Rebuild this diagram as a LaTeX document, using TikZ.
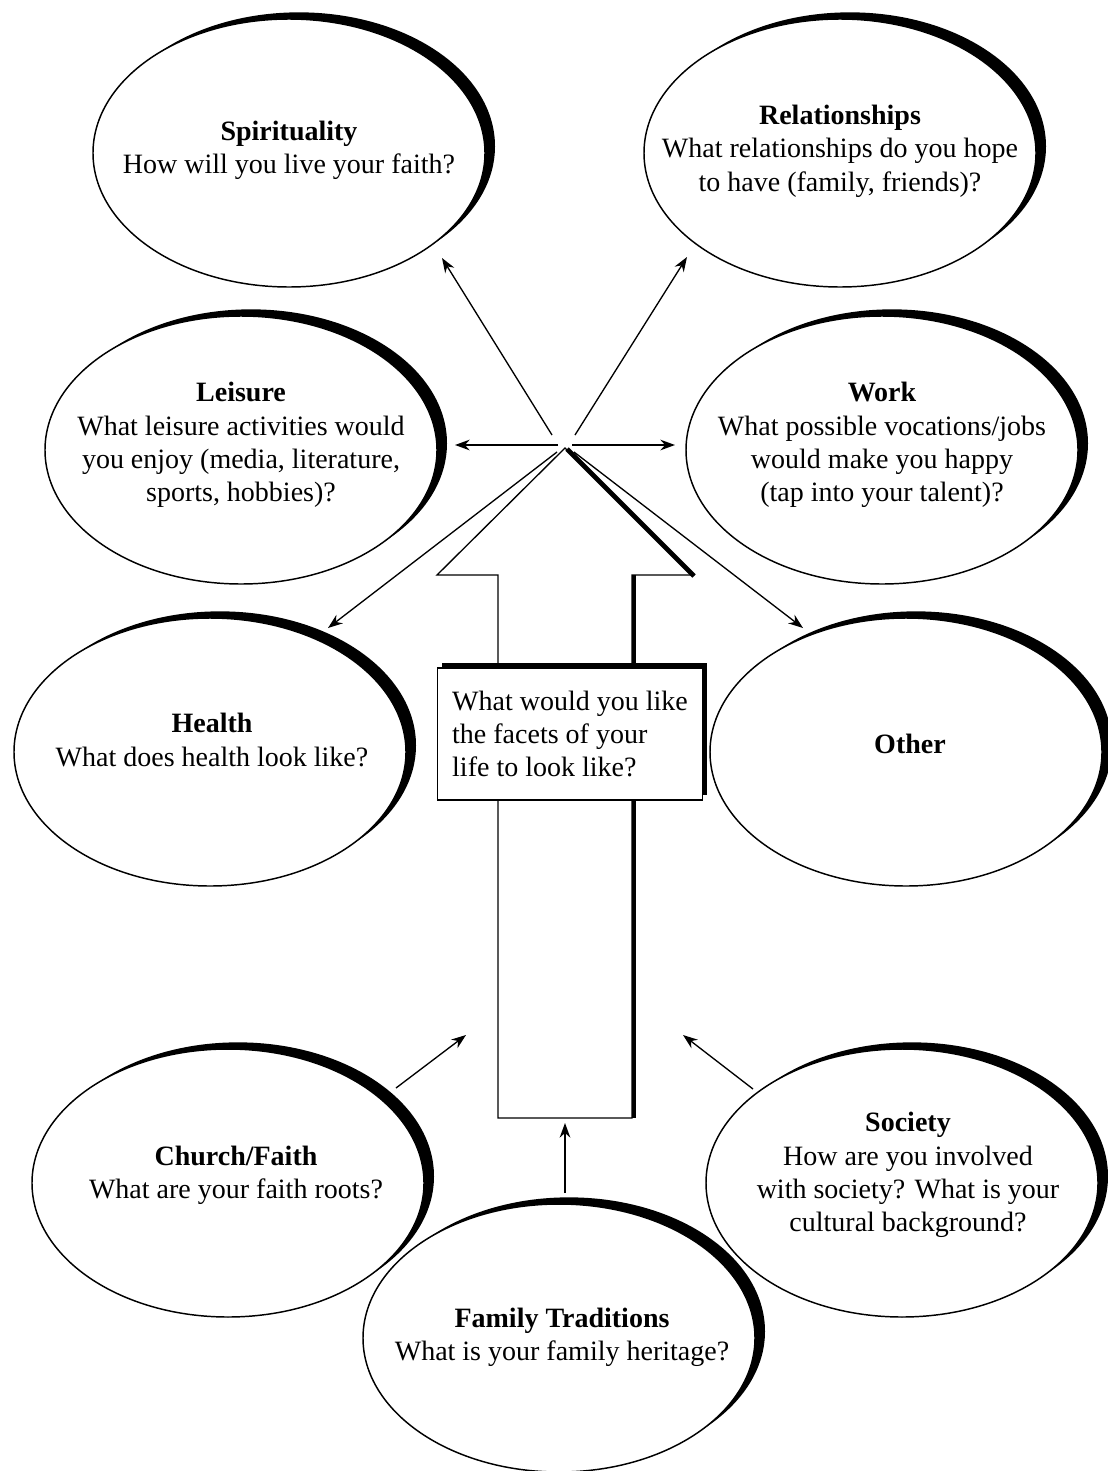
\documentclass[tikz,border=0pt]{standalone}
\usepackage{fontspec}
\setmainfont{Liberation Serif}
\usepackage{tikz}
\usetikzlibrary{arrows.meta}
\usetikzlibrary{shapes.geometric}
\usetikzlibrary{shadows}
\tikzset{facet/.style = {draw, fill = white, ellipse, line width = 1.1pt,
    minimum width = 294pt, minimum height = 201pt, inner sep = 0,
    drop shadow = {shadow xshift = 7.5pt, shadow yshift = 5pt, fill = black, opacity = 1}}}
\tikzset{facettext/.style = {align = center, font = \fontsize{21}{25}\selectfont}}
\tikzset{qbox/.style = {draw, fill = white, line width = 1pt, align = left,
    minimum width = 198.75pt, minimum height = 99pt,
    font = \fontsize{21}{25}\selectfont,
    drop shadow = {shadow xshift = 3pt, shadow yshift = 4pt, fill = black, opacity = 1}}}
\tikzset{link/.style = {-{Stealth[length = 11pt, width = 8pt]}, line width = 1pt}}

\begin{document}
\begin{tikzpicture}[x = 0.75pt, y = -0.75pt]
      \useasboundingbox (0, 0) rectangle (1107, 1471);

      \node [facet] (spirit) at (289, 153) {};
      \node [facet] (relation) at (840, 153) {};
      \node [facet] (leisure) at (241, 450) {};
      \node [facet] (work) at (882, 450) {};
      \node [facet] (health) at (210, 752) {};
      \node [facet] (other) at (906, 752) {};
      \node [facet] (church) at (228, 1183) {};
      \node [facet] (society) at (902, 1183) {};
      \node [facet] (family) at (559, 1338) {};

      \node [facettext] (spiritText) at (289, 150) {\textbf{Spirituality}\\ How will you live your faith?};
      \node [facettext] (relationText) at (840, 151) {\textbf{Relationships}\\ What relationships do you hope\\ to have (family, friends)?};
      \node [facettext] (leisureText) at (241, 445) {\textbf{Leisure}\\ What leisure activities would\\ you enjoy (media, literature,\\ sports, hobbies)?};
      \node [facettext] (workText) at (882, 445) {\textbf{Work}\\ What possible vocations/jobs\\ would make you happy\\ (tap into your talent)?};
      \node [facettext] (healthText) at (212, 740) {\textbf{Health}\\ What does health look like?};
      \node [facettext] (otherText) at (910, 744) {\textbf{Other}};
      \node [facettext] (churchText) at (236, 1175) {\textbf{Church/Faith}\\ What are your faith roots?};
      \node [facettext] (societyText) at (908, 1175) {\textbf{Society}\\ How are you involved\\ with society? What is your\\ cultural background?};
      \node [facettext] (familyText) at (562, 1337) {\textbf{Family Traditions}\\ What is your family heritage?};

      % the big hollow arrow
      \draw [line width = 1pt, fill = white] (565, 448) -- (437, 575) -- (498, 575) -- (498, 1118)
        -- (632, 1118) -- (632, 575) -- (693, 575) -- cycle;
      \draw [line width = 3.5pt] (567, 449) -- (694, 576);
      \draw [line width = 3.5pt] (634, 575) -- (634, 1118);

      \node [qbox] (facets) at (570, 734) {What would you like\\ the facets of your\\ life to look like?};

      % arrows out of the tip
      \coordinate (tipNW) at (552, 435);
      \coordinate (tipNE) at (575, 435);
      \coordinate (tipW) at (558, 445);
      \coordinate (tipE) at (572, 445);
      \coordinate (tipSW) at (557, 452);
      \coordinate (tipSE) at (574, 452);
      \coordinate (toSpirit) at (442, 258);
      \coordinate (toRelation) at (687, 257);
      \coordinate (toLeisure) at (455, 445);
      \coordinate (toWork) at (675, 445);
      \coordinate (toHealth) at (328, 628);
      \coordinate (toOther) at (803, 628);

      \foreach \a/\b in {tipNW/toSpirit, tipNE/toRelation, tipW/toLeisure,
          tipE/toWork, tipSW/toHealth, tipSE/toOther} {
        \draw [link] (\a) -- (\b);
      }

      % arrows into the shaft
      \coordinate (churchOut) at (396, 1088);
      \coordinate (familyOut) at (565, 1193);
      \coordinate (societyOut) at (753, 1089);
      \coordinate (shaftW) at (466, 1035);
      \coordinate (shaftS) at (565, 1123);
      \coordinate (shaftE) at (683, 1035);

      \foreach \a/\b in {churchOut/shaftW, familyOut/shaftS, societyOut/shaftE} {
        \draw [link] (\a) -- (\b);
      }
\end{tikzpicture}
\end{document}
